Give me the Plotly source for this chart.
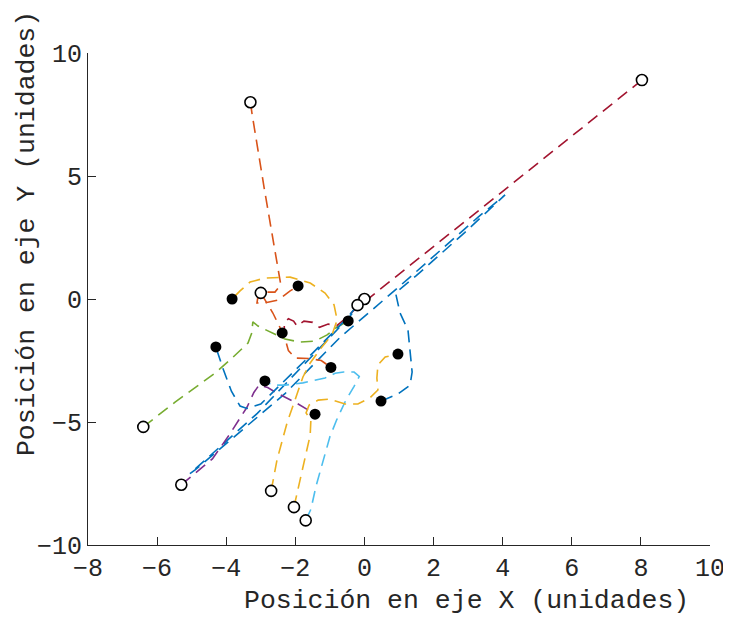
import plotly.graph_objects as go

# ---- data ----
blue1_x = [0.0, -0.45, -3.1, -5.05, -4.9, -2.3, -0.7, 0.3, 1.32, 3.29, 4.07, 2.9, 1.5, 0.9, 1.03, 1.26, 1.32, 1.38, 1.32, 0.97, 0.48]
blue1_y = [0.0, -0.75, -4.65, -7.1, -6.95, -3.85, -1.55, -0.35, 0.89, 3.33, 4.23, 2.7, 0.95, 0.25, -0.57, -1.26, -2.07, -2.97, -3.5, -3.86, -4.15]

orange1_x = [-3.3, -3.25, -2.9, -2.6, -2.45, -2.42, -2.59, -2.88, -3.08, -3.11, -2.88, -2.5, -2.15, -1.92]
orange1_y = [8.0, 7.5, 4.5, 2.0, 0.9, 0.57, 0.28, 0.28, 0.12, -0.16, -0.16, -0.04, 0.33, 0.53]

yellow1_x = [-2.7, -2.53, -2.24, -1.95, -1.78, -1.57, -1.23, -0.94, -0.79, -0.88, -1.14, -1.57, -2.15, -2.88, -3.31, -3.6, -3.83]
yellow1_y = [-7.8, -6.54, -5.04, -3.82, -3.17, -2.6, -1.95, -1.46, -0.85, -0.24, 0.24, 0.65, 0.89, 0.85, 0.69, 0.33, 0.0]

purple_x = [-5.3, -4.4, -3.9, -3.4, -3.2, -3.05, -2.8, -2.5, -2.0, -1.65, -1.43]
purple_y = [-7.55, -6.5, -5.5, -4.4, -3.8, -3.5, -3.6, -3.85, -4.2, -4.5, -4.68]

green_x = [-6.4, -5.48, -4.84, -4.32, -3.83, -3.37, -3.26, -3.23, -3.08, -2.79, -2.3, -1.86, -1.43, -1.08, -0.79, -0.47]
green_y = [-5.2, -4.19, -3.54, -3.01, -2.4, -1.79, -1.38, -0.93, -1.1, -1.3, -1.63, -1.75, -1.71, -1.46, -1.14, -0.89]

lightblue_x = [-1.7, -1.55, -1.4, -1.2, -1.0, -0.8, -0.55, -0.3, -0.15, -0.3, -0.6, -0.85, -1.14, -1.78, -2.3, -2.67, -2.88]
lightblue_y = [-9.0, -8.55, -7.6, -6.55, -5.6, -4.9, -4.15, -3.55, -3.15, -2.97, -2.97, -3.02, -3.21, -3.41, -3.5, -3.5, -3.33]

darkred_x = [8.03, 4.2, 0.3, -0.3, -0.55, -0.8, -1.05, -1.3, -1.5, -1.75, -1.95, -2.05, -2.2, -2.32, -2.32, -2.38]
darkred_y = [8.9, 4.6, 0.25, -0.45, -0.8, -1.08, -1.02, -1.15, -0.95, -0.9, -1.1, -0.9, -0.8, -1.0, -1.25, -1.38]

blue2_x = [-0.2, -0.35, -0.55, -1.5, -3.0, -3.4, -3.6, -3.85, -4.1, -4.3]
blue2_y = [-0.25, -0.5, -0.85, -2.2, -4.27, -4.45, -4.35, -3.75, -2.8, -1.95]

orange2_x = [-3.0, -2.85, -2.65, -2.45, -2.3, -2.2, -2.0, -1.6, -1.25, -0.97]
orange2_y = [0.25, -0.1, -0.57, -1.14, -1.6, -2.1, -2.4, -2.42, -2.5, -2.78]

yellow2_x = [-2.04, -1.86, -1.72, -1.57, -1.55, -1.69, -1.6, -1.34, -1.0, -0.56, -0.19, 0.16, 0.39, 0.36, 0.39, 0.6, 0.97]
yellow2_y = [-8.46, -7.36, -6.54, -5.53, -4.92, -4.63, -4.31, -4.11, -4.07, -4.27, -4.27, -4.02, -3.7, -3.21, -2.68, -2.36, -2.24]

x_ticks = [-8, -6, -4, -2, 0, 2, 4, 6, 8, 10]
y_ticks = [-10, -5, 0, 5, 10]
x_label = "Posición en eje X (unidades)"
y_label = "Posición en eje Y (unidades)"

trajectories = [
    (blue1_x, blue1_y), (orange1_x, orange1_y), (yellow1_x, yellow1_y),
    (purple_x, purple_y), (green_x, green_y), (lightblue_x, lightblue_y),
    (darkred_x, darkred_y), (blue2_x, blue2_y), (orange2_x, orange2_y),
    (yellow2_x, yellow2_y),
]
colors = ["#0072BD", "#D95319", "#EDB120", "#7E2F8E", "#77AC30",
          "#4DBEEE", "#A2142F", "#0072BD", "#D95319", "#EDB120"]

fig = go.Figure()
for (tx, ty), c in zip(trajectories, colors):
    fig.add_trace(go.Scatter(x=tx, y=ty, mode="lines",
                             line=dict(color=c, width=1.6, dash="12px,7px"),
                             hoverinfo="skip", showlegend=False))

fig.add_trace(go.Scatter(x=[t[0][0] for t in trajectories], y=[t[1][0] for t in trajectories],
                         mode="markers", showlegend=False,
                         marker=dict(symbol="circle", size=11, color="white",
                                     line=dict(color="black", width=1.6))))
fig.add_trace(go.Scatter(x=[t[0][-1] for t in trajectories], y=[t[1][-1] for t in trajectories],
                         mode="markers", showlegend=False,
                         marker=dict(symbol="circle", size=11, color="black",
                                     line=dict(color="black", width=0))))

fam = "Liberation Mono, Courier New, monospace"
tick_font = dict(family=fam, size=25, color="#262626")
title_font = dict(family=fam, size=26.5, color="#262626")
axis_common = dict(showgrid=False, zeroline=False, showline=True, linecolor="#262626",
                   linewidth=1, ticks="inside", ticklen=8, tickcolor="#262626",
                   tickfont=tick_font, mirror=False, automargin=False)
# the page body adds an 8px offset, so the figure is sized to the remaining space
fig.update_layout(
    width=723, height=609,
    margin=dict(l=80, r=21, t=45, b=72),
    paper_bgcolor="white", plot_bgcolor="white",
    font=tick_font,
    xaxis=dict(range=[-8, 10], tickvals=x_ticks, **axis_common),
    yaxis=dict(range=[-10, 10], tickvals=y_ticks, **axis_common),
    annotations=[
        dict(text=x_label, xref="paper", yref="paper", x=0.608, y=-0.114,
             xanchor="center", yanchor="middle", showarrow=False, font=title_font),
        dict(text=y_label, xref="paper", yref="paper", x=-0.098, y=0.632,
             xanchor="center", yanchor="middle", showarrow=False, textangle=-90,
             font=title_font),
    ],
)
fig.write_html("out.html")
